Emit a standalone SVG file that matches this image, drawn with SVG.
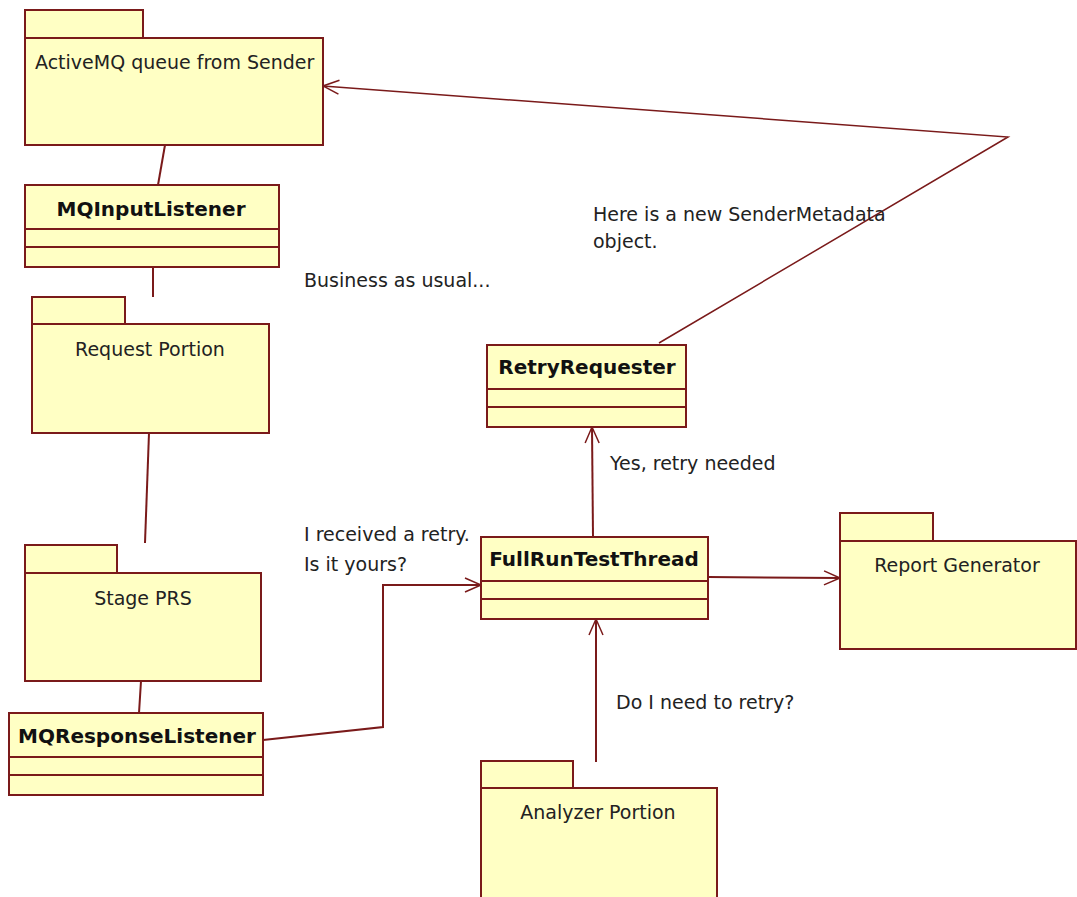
<svg xmlns="http://www.w3.org/2000/svg" width="1077" height="897" viewBox="0 0 1077 897">
<defs>
<marker id="arr" markerWidth="20" markerHeight="20" refX="18" refY="10" orient="auto" markerUnits="userSpaceOnUse">
<path d="M2,3 L18,10 L2,17" fill="none" stroke="#7a1a1a" stroke-width="1.5"/>
</marker>
</defs>
<style>
.box{fill:#ffffc4;stroke:#7a1a1a;stroke-width:2}
.ln{fill:none;stroke:#7a1a1a;stroke-width:2}
.t{font-family:"DejaVu Sans",sans-serif;font-size:19px;fill:#222}
.c{text-anchor:middle}
.b{font-weight:bold;font-size:20px;fill:#111}
</style>
<rect width="1077" height="897" fill="#fff"/>
<g id="connectors">
<line class="ln" x1="165" y1="145" x2="158" y2="185"/>
<line class="ln" x1="153" y1="267" x2="153" y2="297"/>
<line class="ln" x1="149" y1="433" x2="145" y2="543"/>
<line class="ln" x1="141" y1="681" x2="139" y2="713"/>
<polyline class="ln" points="263,740 383,727 383,585 481,585" marker-end="url(#arr)"/>
<line class="ln" x1="593" y1="537" x2="592" y2="427" marker-end="url(#arr)"/>
<line class="ln" x1="596" y1="762" x2="596" y2="619" marker-end="url(#arr)"/>
<line class="ln" x1="708" y1="577" x2="840" y2="578" marker-end="url(#arr)"/>
<polyline class="ln" points="659,343 1008,137 323,86" marker-end="url(#arr)" style="stroke-width:1.5"/>
</g>
<g id="activemq">
<rect class="box" x="25" y="10" width="118" height="28"/>
<rect class="box" x="25" y="38" width="298" height="107"/>
<text class="t" x="35" y="69">ActiveMQ queue from Sender</text>
</g>
<g id="mqinputlistener">
<rect class="box" x="25" y="185" width="254" height="82"/>
<line class="ln" x1="25" y1="229" x2="279" y2="229"/>
<line class="ln" x1="25" y1="247" x2="279" y2="247"/>
<text class="t b c" x="151" y="216">MQInputListener</text>
</g>
<g id="requestportion">
<rect class="box" x="32" y="297" width="93" height="27"/>
<rect class="box" x="32" y="324" width="237" height="109"/>
<text class="t c" x="150" y="356">Request Portion</text>
</g>
<g id="stageprs">
<rect class="box" x="25" y="545" width="92" height="28"/>
<rect class="box" x="25" y="573" width="236" height="108"/>
<text class="t c" x="143" y="605">Stage PRS</text>
</g>
<g id="mqresponselistener">
<rect class="box" x="9" y="713" width="254" height="82"/>
<line class="ln" x1="9" y1="757" x2="263" y2="757"/>
<line class="ln" x1="9" y1="775" x2="263" y2="775"/>
<text class="t b c" x="137" y="743">MQResponseListener</text>
</g>
<g id="retryrequester">
<rect class="box" x="487" y="345" width="199" height="82"/>
<line class="ln" x1="487" y1="389" x2="686" y2="389"/>
<line class="ln" x1="487" y1="407" x2="686" y2="407"/>
<text class="t b c" x="587" y="374">RetryRequester</text>
</g>
<g id="fullruntestthread">
<rect class="box" x="481" y="537" width="227" height="82"/>
<line class="ln" x1="481" y1="581" x2="708" y2="581"/>
<line class="ln" x1="481" y1="599" x2="708" y2="599"/>
<text class="t b c" x="594" y="566">FullRunTestThread</text>
</g>
<g id="reportgenerator">
<rect class="box" x="840" y="513" width="93" height="28"/>
<rect class="box" x="840" y="541" width="236" height="108"/>
<text class="t c" x="957" y="572">Report Generator</text>
</g>
<g id="analyzerportion">
<rect class="box" x="481" y="761" width="92" height="27"/>
<rect class="box" x="481" y="788" width="236" height="110"/>
<text class="t c" x="598" y="819">Analyzer Portion</text>
</g>
<g id="labels">
<text class="t" x="304" y="287">Business as usual...</text>
<text class="t" x="593" y="221">Here is a new SenderMetadata</text>
<text class="t" x="593" y="248">object.</text>
<text class="t" x="610" y="470">Yes, retry needed</text>
<text class="t" x="304" y="541">I received a retry.</text>
<text class="t" x="304" y="571">Is it yours?</text>
<text class="t" x="616" y="709">Do I need to retry?</text>
</g>
</svg>
